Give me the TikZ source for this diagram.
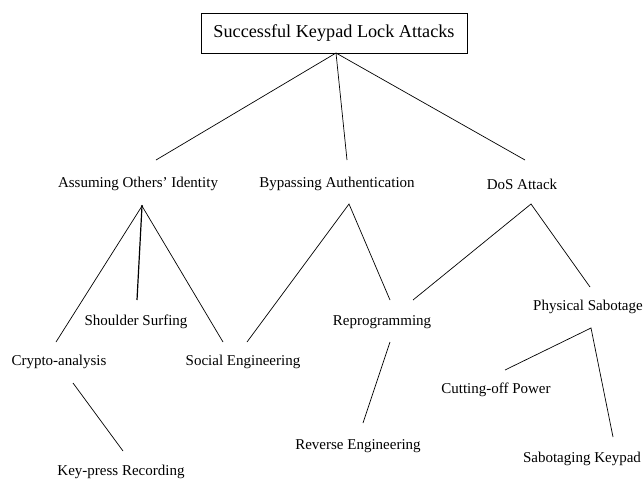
\documentclass[tikz,border=0pt]{standalone}
\usepackage{fontspec}
\setmainfont{Liberation Serif}
\begin{document}
\begin{tikzpicture}[x=1pt,y=-1pt,
  lbl/.style={inner sep=0pt,font=\fontsize{15}{18}\selectfont},
  topbox/.style={draw,line width=0.8pt,minimum width=266pt,minimum height=40pt,inner sep=0pt,font=\fontsize{18.2}{20}\selectfont},
  link/.style={line width=0.7pt}]
\useasboundingbox[fill=white] (0,0) rectangle (644,480);
% nodes
\node[topbox] (top) at (334,33) {Successful Keypad Lock Attacks};
\node[lbl] (aoi) at (138,184) {Assuming Others' Identity};
\node[lbl] (ba) at (337,184) {Bypassing Authentication};
\node[lbl] (dos) at (522,184) {DoS Attack};
\node[lbl] (ss) at (136,322) {Shoulder Surfing};
\node[lbl] (ca) at (59,362) {Crypto-analysis};
\node[lbl] (se) at (243,362) {Social Engineering};
\node[lbl] (rp) at (382,322) {Reprogramming};
\node[lbl] (ps) at (588,307) {Physical Sabotage};
\node[lbl] (kr) at (121,472) {Key-press Recording};
\node[lbl] (re) at (358,446) {Reverse Engineering};
\node[lbl] (cp) at (496,390) {Cutting-off Power};
\node[lbl] (sk) at (582,459) {Sabotaging Keypad};
% connector end points
\coordinate (topA) at (336,53);
\coordinate (t1) at (156,160);
\coordinate (t2) at (347,160);
\coordinate (t3) at (525,160);
\coordinate (aA) at (142,206);
\coordinate (a1) at (56,342);
\coordinate (a2) at (137,300);
\coordinate (a3) at (223,342);
\coordinate (bA) at (349,204);
\coordinate (b1) at (247,342);
\coordinate (b2) at (390,300);
\coordinate (dA) at (531,204);
\coordinate (d1) at (413,300);
\coordinate (d2) at (590,287);
\coordinate (cA) at (73,383);
\coordinate (c1) at (123,451);
\coordinate (rA) at (390,342);
\coordinate (r1) at (363,423);
\coordinate (pA) at (591,328);
\coordinate (p1) at (505,370);
\coordinate (p2) at (613,437);
% connectors
\draw[link] (t1) -- (topA) -- (t3);
\draw[link] (topA) -- (t2);
\draw[link] (a1) -- (aA) -- (a3);
\draw[link,line width=1.2pt] (aA) -- (a2);
\fill (aA) circle (1.2pt);
\draw[link] (b1) -- (bA) -- (b2);
\draw[link] (d1) -- (dA) -- (d2);
\draw[link] (cA) -- (c1);
\draw[link] (rA) -- (r1);
\draw[link] (p1) -- (pA) -- (p2);
\end{tikzpicture}
\end{document}
